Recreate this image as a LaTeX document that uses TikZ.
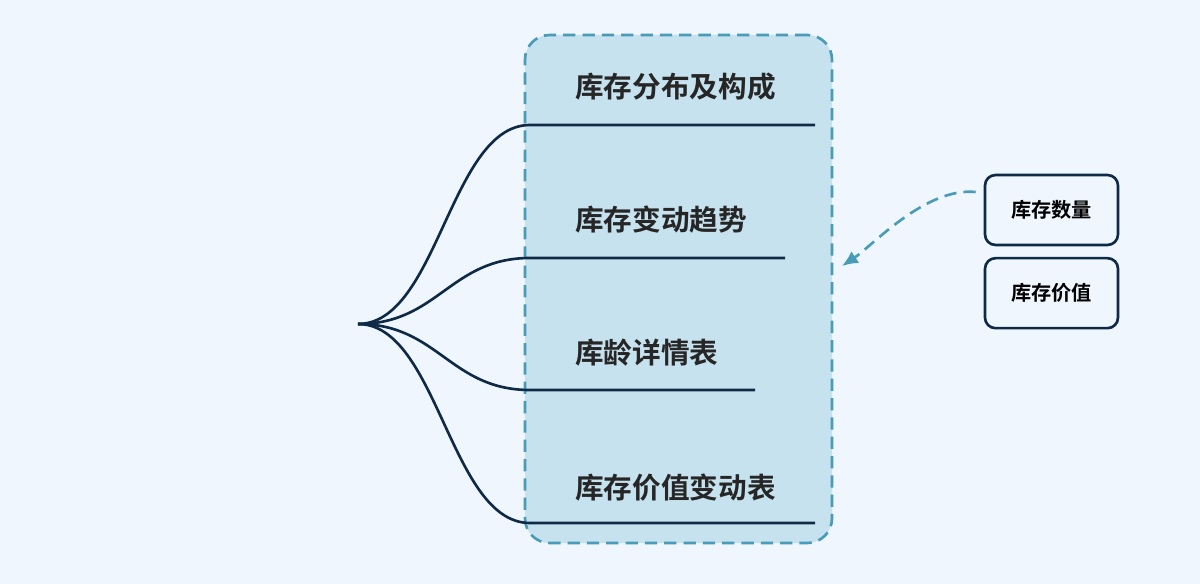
\documentclass[tikz,border=0pt]{standalone}
\usepackage{fontspec}
\newfontfamily\cjk{Noto Sans CJK SC}[BoldFont={Noto Sans CJK SC Bold}]
\usetikzlibrary{positioning,arrows.meta}
\definecolor{bgcol}{HTML}{EFF6FD}
\definecolor{panelfill}{HTML}{C6E2EF}
\definecolor{paneldraw}{HTML}{4A9BB8}
\definecolor{navy}{HTML}{0F2A47}
\begin{document}
\begin{tikzpicture}[x=0.02cm,y=-0.02cm,
item/.style={
  font={\cjk\bfseries\fontsize{16.3pt}{18pt}\selectfont},
  text=black!85, anchor=west, inner sep=0pt},
tag/.style={
  font={\cjk\bfseries\fontsize{11.5pt}{13pt}\selectfont},
  draw=navy, line width=1.5pt, rounded corners=6pt,
  minimum width=133*0.02cm, minimum height=70*0.02cm},
branch/.style={navy, line width=1.5pt},
]
\fill[bgcol] (0,0) rectangle (1200,584);
\useasboundingbox (0,0) rectangle (1200,584);

\node[draw=paneldraw, fill=panelfill, dash pattern=on 7pt off 4pt, line width=1.5pt,
  rounded corners=14pt, minimum width=307*0.02cm, minimum height=508*0.02cm]
  (panel) at (678.5,289) {};

\coordinate (root) at (358,324);
\coordinate (s1) at (530,125); \coordinate (e1) at (815,125);
\coordinate (s2) at (530,258); \coordinate (e2) at (785,258);
\coordinate (s3) at (530,390); \coordinate (e3) at (755,390);
\coordinate (s4) at (530,523); \coordinate (e4) at (815,523);

\foreach \i in {1,2,3,4}
  \draw[branch] (root) .. controls +(80,0) and +(-80,0) .. (s\i) -- (e\i);

\node[item] (inv1) at (575,87) {库存分布及构成};
\node[item] (inv2) at (575,220) {库存变动趋势};
\node[item] (inv3) at (575,353) {库龄详情表};
\node[item] (inv4) at (575,488) {库存价值变动表};

\node[tag] (qty) at (1051.5,210) {库存数量};
\node[tag,below=6pt of qty] (val) {库存价值};

\coordinate (tip) at (842,266);
\draw[paneldraw, dash pattern=on 7pt off 4pt, line width=1.5pt, -{Latex[length=9pt,width=8pt]}]
  (qty.west) ++(-8,-18) .. controls +(-50,-5) and +(30,-20) .. (tip);
\end{tikzpicture}
\end{document}
